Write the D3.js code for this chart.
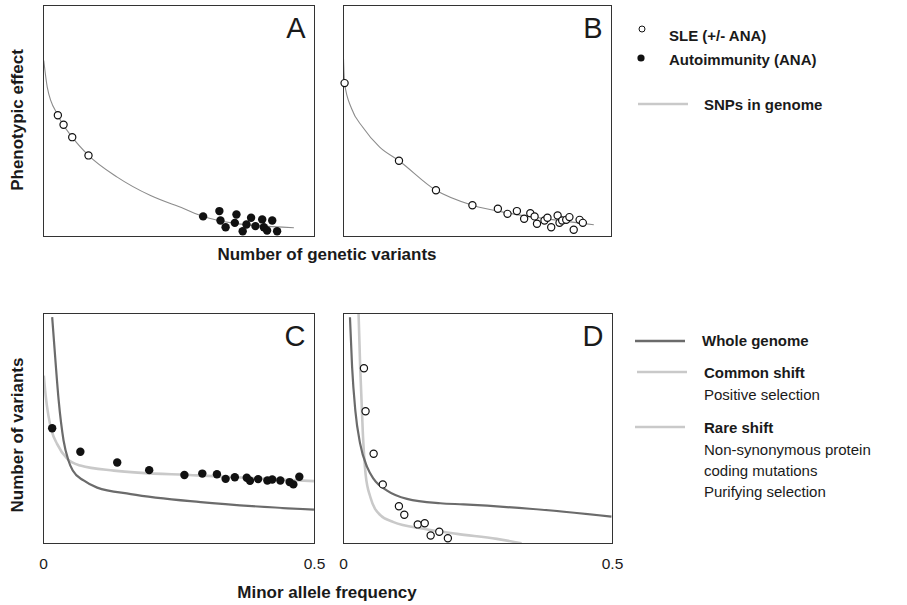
<!DOCTYPE html>
<html>
<head>
<meta charset="utf-8">
<script src="https://cdn.jsdelivr.net/npm/d3@7"></script>
<style>
  html, body { margin: 0; padding: 0; background: #fff; }
  svg { display: block; font-family: Arial, "Liberation Sans", Helvetica, sans-serif; }
</style>
</head>
<body>
<div id="chart"></div>
<script>
/* ── Data (x/y in arbitrary 0–100 units, MAF for C/D) ── */

// Panel A
const snpCurveA = [[0.1, 76.2], [1.4, 64.6], [5.3, 52.5], [10.6, 43.0], [16.6, 35.1], [27.2, 25.7],
  [39.5, 17.7], [51.7, 12.1], [58.9, 8.7], [70.1, 5.8], [92.4, 3.8]];
const sleA = [[5.3, 52.5], [7.4, 48.4], [10.6, 43.0], [16.6, 35.1]];
const anaA = [[58.9, 8.7], [64.9, 11.0], [65.3, 6.9], [67.2, 4.0], [71.2, 9.5], [70.6, 5.9],
  [73.5, 2.3], [74.9, 5.2], [76.6, 8.1], [78.2, 4.5], [80.7, 7.4], [81.3, 4.0], [82.5, 2.6],
  [84.4, 6.9], [86.2, 2.3]];

// Panel B
const snpCurveB = [[0, 76.9], [0.4, 66.4], [3.0, 55.4], [7.2, 47.3], [13.5, 38.7], [20.7, 32.8],
  [34.5, 20.0], [48.1, 13.5], [62.2, 10.0], [77.2, 7.4], [93.4, 5.1]];
const sleB = [[0.4, 66.4], [20.7, 32.8], [34.5, 20.0], [48.1, 13.5], [57.6, 12.0], [61.2, 9.8],
  [64.7, 11.0], [67.4, 7.7], [69.7, 10.1], [71.3, 8.7], [72.2, 5.5], [75.0, 6.9], [76.1, 8.1],
  [77.5, 4.0], [79.9, 9.1], [80.6, 5.9], [81.6, 6.9], [83.1, 7.2], [84.3, 8.4], [85.9, 2.9],
  [88.1, 7.2], [89.3, 5.9]];

// Panel C
const wholeC = [[0.016, 98.4], [0.022, 79.6], [0.028, 62.2], [0.037, 44.8], [0.046, 36.1],
  [0.054, 31.7], [0.074, 27.4], [0.099, 24.3], [0.161, 21.5], [0.290, 18.0], [0.499, 14.7]];
const commonC = [[0.0006, 73.0], [0.004, 64.3], [0.009, 55.7], [0.015, 49.1], [0.025, 43.3],
  [0.044, 36.8], [0.068, 33.9], [0.130, 31.7], [0.284, 29.6], [0.499, 27.1]];
const anaC = [[0.016, 50.1], [0.068, 39.9], [0.136, 35.2], [0.195, 31.9], [0.260, 29.8],
  [0.293, 30.4], [0.320, 30.1], [0.336, 28.1], [0.353, 28.8], [0.375, 28.6], [0.381, 27.3],
  [0.396, 28.0], [0.413, 27.4], [0.422, 27.8], [0.437, 27.4], [0.454, 26.7], [0.461, 25.7],
  [0.472, 29.0]];

// Panel D
const wholeD = [[0.012, 98.4], [0.016, 76.7], [0.022, 57.8], [0.031, 43.3], [0.044, 33.2],
  [0.056, 28.1], [0.081, 23.0], [0.118, 19.4], [0.180, 17.5], [0.223, 17.0], [0.346, 15.1],
  [0.498, 11.7]];
const rareD = [[0.028, 100], [0.031, 76.7], [0.036, 47.7], [0.041, 30.3], [0.050, 20.1],
  [0.069, 12.2], [0.093, 9.3], [0.149, 6.4], [0.211, 4.2], [0.285, 2.0], [0.331, 0.1]];
const sleD = [[0.038, 76.2], [0.041, 57.5], [0.056, 39.0], [0.073, 25.7], [0.103, 16.2],
  [0.113, 12.5], [0.138, 8.3], [0.151, 8.8], [0.162, 3.5], [0.178, 5.1], [0.194, 2.3]];

const mafTicks = [0, 0.5];
const mafTickLabels = ['0', '0.5'];

/* ── Styles ── */
const FRAME = '#333';
const THIN = '#8c8c8c';
const DARK = '#6b6b6b';
const LIGHT = '#c9c9c9';
const TXT = '#1a1a1a';

const W = 907, H = 605;
const svg = d3.select('#chart').append('svg').attr('width', W).attr('height', H);

/* ── Panel builder ── */
function panel(box, xDomain, letter) {
  const x = d3.scaleLinear().domain(xDomain).range([box.x0, box.x1]);
  const y = d3.scaleLinear().domain([0, 100]).range([box.y1, box.y0]);
  const g = svg.append('g');
  const id = 'clip-' + letter;
  svg.append('clipPath').attr('id', id).append('rect')
    .attr('x', box.x0).attr('y', box.y0)
    .attr('width', box.x1 - box.x0).attr('height', box.y1 - box.y0);
  const inner = g.append('g').attr('clip-path', `url(#${id})`);
  g.append('rect')
    .attr('x', box.x0).attr('y', box.y0)
    .attr('width', box.x1 - box.x0).attr('height', box.y1 - box.y0)
    .attr('fill', 'none').attr('stroke', FRAME).attr('stroke-width', 1);
  g.append('text')
    .attr('x', box.x1 - 9).attr('y', box.y0 + 32)
    .attr('text-anchor', 'end')
    .attr('font-size', 29).attr('fill', TXT)
    .text(letter);
  return { x, y, g, inner };
}

function drawLine(p, data, color, width) {
  const line = d3.line().x(d => p.x(d[0])).y(d => p.y(d[1])).curve(d3.curveMonotoneX);
  p.inner.append('path').datum(data)
    .attr('d', line)
    .attr('fill', 'none').attr('stroke', color).attr('stroke-width', width);
}

function drawDots(p, data, filled, r) {
  p.g.append('g').selectAll('circle')
    .data(data)
    .join('circle')
    .attr('cx', d => p.x(d[0])).attr('cy', d => p.y(d[1]))
    .attr('r', r)
    .attr('fill', filled ? '#111' : '#fff')
    .attr('stroke', '#111').attr('stroke-width', filled ? 0 : 1.2);
}

function mafAxis(p, box) {
  p.g.append('g').selectAll('text')
    .data(mafTicks)
    .join('text')
    .attr('x', d => p.x(d)).attr('y', box.y1 + 25)
    .attr('text-anchor', 'middle')
    .attr('font-size', 15.5).attr('fill', TXT)
    .text((d, i) => mafTickLabels[i]);
}

/* ── A ── */
const boxA = { x0: 43.5, x1: 314.5, y0: 5.5, y1: 236.5 };
const pA = panel(boxA, [0, 100], 'A');
drawLine(pA, snpCurveA, THIN, 1.1);
drawDots(pA, sleA, false, 3.6);
drawDots(pA, anaA, true, 4.2);

/* ── B ── */
const boxB = { x0: 343.5, x1: 611.5, y0: 5.5, y1: 236.5 };
const pB = panel(boxB, [0, 100], 'B');
drawLine(pB, snpCurveB, THIN, 1.1);
drawDots(pB, sleB, false, 3.6);

/* ── C ── */
const boxC = { x0: 43.5, x1: 314.5, y0: 313.5, y1: 543.5 };
const pC = panel(boxC, [0, 0.5], 'C');
drawLine(pC, commonC, LIGHT, 2.6);
drawLine(pC, wholeC, DARK, 2.2);
drawDots(pC, anaC, true, 4.2);
mafAxis(pC, boxC);

/* ── D ── */
const boxD = { x0: 343.5, x1: 612.5, y0: 313.5, y1: 543.5 };
const pD = panel(boxD, [0, 0.5], 'D');
drawLine(pD, rareD, LIGHT, 2.6);
drawLine(pD, wholeD, DARK, 2.2);
drawDots(pD, sleD, false, 3.6);
mafAxis(pD, boxD);

/* ── Axis titles ── */
const titles = svg.append('g').attr('font-weight', 'bold').attr('font-size', 17).attr('fill', TXT);
titles.append('text').attr('x', 327).attr('y', 260).attr('text-anchor', 'middle')
  .text('Number of genetic variants');
titles.append('text').attr('x', 327).attr('y', 598).attr('text-anchor', 'middle')
  .text('Minor allele frequency');
titles.append('text').attr('transform', 'translate(23,120) rotate(-90)').attr('text-anchor', 'middle')
  .text('Phenotypic effect');
titles.append('text').attr('transform', 'translate(23,435) rotate(-90)').attr('text-anchor', 'middle')
  .text('Number of variants');

/* ── Top legend ── */
const leg1 = svg.append('g').attr('font-size', 15).attr('fill', TXT);
leg1.append('circle').attr('cx', 642).attr('cy', 29).attr('r', 3)
  .attr('fill', '#fff').attr('stroke', '#111').attr('stroke-width', 1);
leg1.append('circle').attr('cx', 641).attr('cy', 58).attr('r', 3.6).attr('fill', '#111');
leg1.append('line').attr('x1', 638).attr('x2', 688).attr('y1', 104).attr('y2', 104)
  .attr('stroke', LIGHT).attr('stroke-width', 2.4);
leg1.append('text').attr('x', 669).attr('y', 41).attr('font-weight', 'bold').text('SLE (+/- ANA)');
leg1.append('text').attr('x', 669).attr('y', 65).attr('font-weight', 'bold').text('Autoimmunity (ANA)');
leg1.append('text').attr('x', 704).attr('y', 110).attr('font-weight', 'bold').text('SNPs in genome');

/* ── Bottom legend ── */
const leg2 = svg.append('g').attr('font-size', 15).attr('fill', TXT);
const legLines = [
  { y: 341, x0: 635, color: DARK },
  { y: 372, x0: 637, color: LIGHT },
  { y: 427, x0: 635, color: LIGHT },
];
leg2.selectAll('line').data(legLines).join('line')
  .attr('x1', d => d.x0).attr('x2', d => d.x0 + 50)
  .attr('y1', d => d.y).attr('y2', d => d.y)
  .attr('stroke', d => d.color).attr('stroke-width', 2.4);
const legTexts = [
  { x: 702, y: 346, t: 'Whole genome', b: true },
  { x: 704, y: 378, t: 'Common shift', b: true },
  { x: 704, y: 400, t: 'Positive selection', b: false },
  { x: 704, y: 433, t: 'Rare shift', b: true },
  { x: 704, y: 455, t: 'Non-synonymous protein', b: false },
  { x: 704, y: 476, t: 'coding mutations', b: false },
  { x: 704, y: 497, t: 'Purifying selection', b: false },
];
leg2.selectAll('text').data(legTexts).join('text')
  .attr('x', d => d.x).attr('y', d => d.y)
  .attr('font-weight', d => d.b ? 'bold' : 'normal')
  .text(d => d.t);
</script>
</body>
</html>
